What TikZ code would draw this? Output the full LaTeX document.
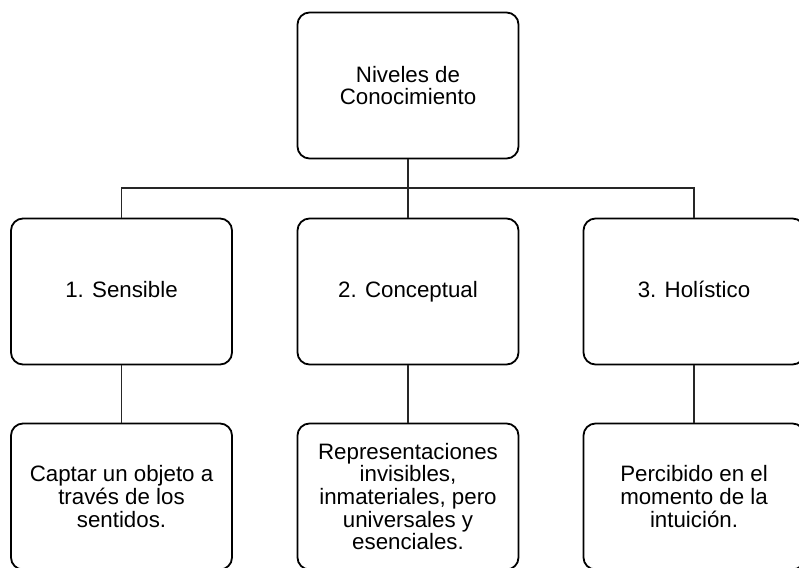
\documentclass[tikz,border=0pt]{standalone}
\usepackage{fontspec}
\setmainfont{Liberation Sans}
\begin{document}
\begin{tikzpicture}[x=1pt,y=-1pt,
  box/.style={draw=black, line width=1.8pt, rounded corners=12pt, minimum width=221pt, minimum height=146pt, align=center, font=\fontsize{22.3}{22.7}\selectfont, fill=white, inner sep=0pt},
  oneline/.style={text height=16pt, text depth=4.5pt},
  conn/.style={draw=black!85, line width=1.1pt}]
\useasboundingbox (0,0) rectangle (799,567);
\clip (0,0) rectangle (799,567);
\node[box] (top) at (408,85.5) {Niveles de\\Conocimiento};
\node[box, oneline] (s1) at (121.5,291.5) {1. Sensible};
\node[box, oneline] (s2) at (408,291.5) {2. Conceptual};
\node[box, oneline] (s3) at (694,291.5) {3. Holístico};
\node[box] (d1) at (121.5,496.5) {Captar un objeto a\\través de los\\sentidos.};
\node[box] (d2) at (408,496.5) {Representaciones\\invisibles,\\inmateriales, pero\\universales y\\esenciales.};
\node[box] (d3) at (694,496.5) {Percibido en el\\momento de la\\intuición.};
\coordinate (j) at (408,188);
\draw[conn] (top.south) -- (s2.north);
\draw[conn] (s1.north) -- (s1.north |- j) -- (s3.north |- j) -- (s3.north);
\draw[conn] (s1.south) -- (d1.north);
\draw[conn] (s2.south) -- (d2.north);
\draw[conn] (s3.south) -- (d3.north);
\end{tikzpicture}
\end{document}
